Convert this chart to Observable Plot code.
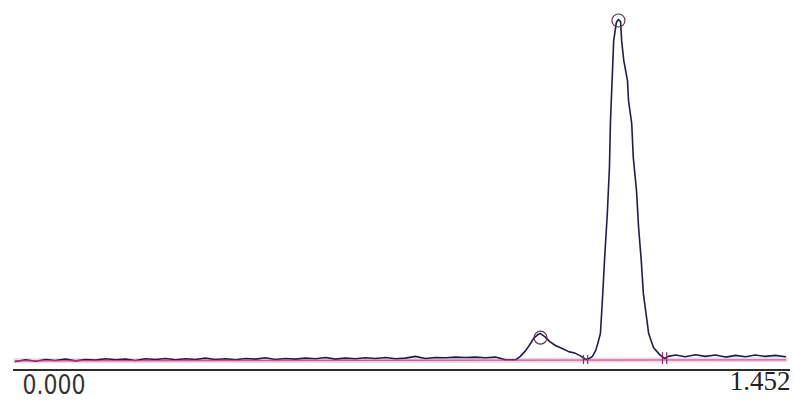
<!DOCTYPE html>
<html><head><meta charset="utf-8">
<script src="https://cdn.jsdelivr.net/npm/d3@7"></script>
<script src="https://cdn.jsdelivr.net/npm/@observablehq/plot@0.6"></script>
<style>html,body{margin:0;padding:0;background:#fff;overflow:hidden}</style>
</head><body><div id="chart"></div>
<script>
const traceTime = [
  0.000,0.019,0.038,0.057,0.075,0.094,0.113,0.132,0.151,0.170,
  0.189,0.207,0.226,0.245,0.264,0.283,0.302,0.321,0.339,0.358,
  0.377,0.396,0.415,0.434,0.453,0.471,0.490,0.509,0.528,0.547,
  0.566,0.585,0.603,0.622,0.641,0.660,0.679,0.698,0.717,0.735,
  0.754,0.773,0.792,0.811,0.830,0.849,0.867,0.886,0.905,0.924,0.943,
  0.952,0.962,0.970,0.977,0.985,0.990,0.998,1.007,1.018,1.031,
  1.043,1.056,1.067,1.075,1.082,1.088,1.094,1.098,1.103,1.107,
  1.111,1.116,1.120,1.122,1.126,1.128,1.133,1.137,1.141,1.143,
  1.147,1.154,1.156,1.162,1.165,1.171,1.175,1.180,1.184,1.190,
  1.194,1.203,1.216,1.224,1.231,
  1.245,1.263,1.282,1.301,1.320,1.339,1.358,1.377,1.395,1.414,1.433,1.452
];
const traceSignal = [
  -0.3,0.2,-0.2,0.3,0.0,0.4,-0.1,0.3,0.1,0.5,
  0.2,0.4,0.0,0.5,0.3,0.6,0.2,0.5,0.3,0.7,
  0.3,0.5,0.2,0.6,0.4,0.8,0.3,0.6,0.4,0.7,
  0.5,0.9,0.4,0.7,0.5,0.8,0.6,0.9,0.5,0.7,
  1.2,0.6,0.9,0.8,1.0,0.9,1.0,0.8,1.0,0.2,0.2,
  1.2,2.9,4.7,6.5,7.6,7.9,7.0,5.6,4.4,3.5,
  2.6,2.1,1.2,0.3,0.6,1.2,2.9,5.0,7.9,18.5,
  30.2,43.1,56.6,70.4,85.9,93.8,99.1,100,99.4,93.8,
  88.0,82.1,76.2,69.5,59.5,49.9,39.0,29.3,19.6,12.6,
  7.9,3.8,1.5,0.6,1.2,
  1.6,1.1,1.7,1.2,1.6,1.0,1.5,1.1,1.6,1.2,1.5,1.1
];
const baselineTime = [0, 1.452];
const baselineSignal = [-0.1, 0.2];
const apexTime = [0.990, 1.137];
const apexSignal = [6.7, 99.7];
const valleyTime = [1.071, 1.079, 1.220, 1.228];
const valleyLow = [-1.2, -1.2, -1.2, -1.2];
const valleyHigh = [1.5, 1.5, 2.3, 2.3];
const tickValues = [0, 1.452];
const tickLabels = ["0.000", "1.452"];

const chart = Plot.plot({
  width: 794, height: 406,
  marginLeft: 15, marginRight: 9, marginTop: 0, marginBottom: 37,
  style: {background: "#fff"},
  x: {domain: [0, 1.452], axis: null},
  y: {domain: [0, 100], range: [360, 19], axis: null},
  marks: [
    Plot.line(baselineTime, {x: baselineTime, y: baselineSignal, stroke: "#f3d5e6", strokeWidth: 5}),
    Plot.line(traceTime, {x: traceTime, y: traceSignal, stroke: "#1f1f45", strokeWidth: 1.6, curve: "linear"}),
    Plot.line(baselineTime, {x: baselineTime, y: baselineSignal, stroke: "#c2458a", strokeWidth: 1.3, strokeOpacity: 0.85}),
    Plot.ruleX(valleyTime, {x: valleyTime, y1: valleyLow, y2: valleyHigh, stroke: "#8c2a6c", strokeWidth: 1.2}),
    Plot.dot(apexTime, {x: apexTime, y: apexSignal, r: 6.5, stroke: "#5a3b4f", fill: "none", strokeWidth: 1.2}),
    Plot.ruleY([0], {dy: 9.5, stroke: "#2e2e2e", strokeWidth: 2, insetLeft: -2, insetRight: -5}),
    Plot.text([tickLabels[0]], {x: [tickValues[0]], frameAnchor: "bottom", dy: 24.5, dx: 7, textAnchor: "start",
      fontSize: 26, fontFamily: "'DejaVu Sans', sans-serif", fill: "#333", text: d => d, className: "lbl-left"}),
    Plot.text([tickLabels[1]], {x: [tickValues[1]], frameAnchor: "bottom", dy: 20, dx: 5, textAnchor: "end",
      fontSize: 27, fontFamily: "'Liberation Serif', serif", fill: "#222", text: d => d})
  ]
});
d3.select(chart).selectAll(".lbl-left text")
  .attr("textLength", 63)
  .attr("lengthAdjust", "spacingAndGlyphs");
document.getElementById("chart").appendChild(chart);
</script>
</body></html>
